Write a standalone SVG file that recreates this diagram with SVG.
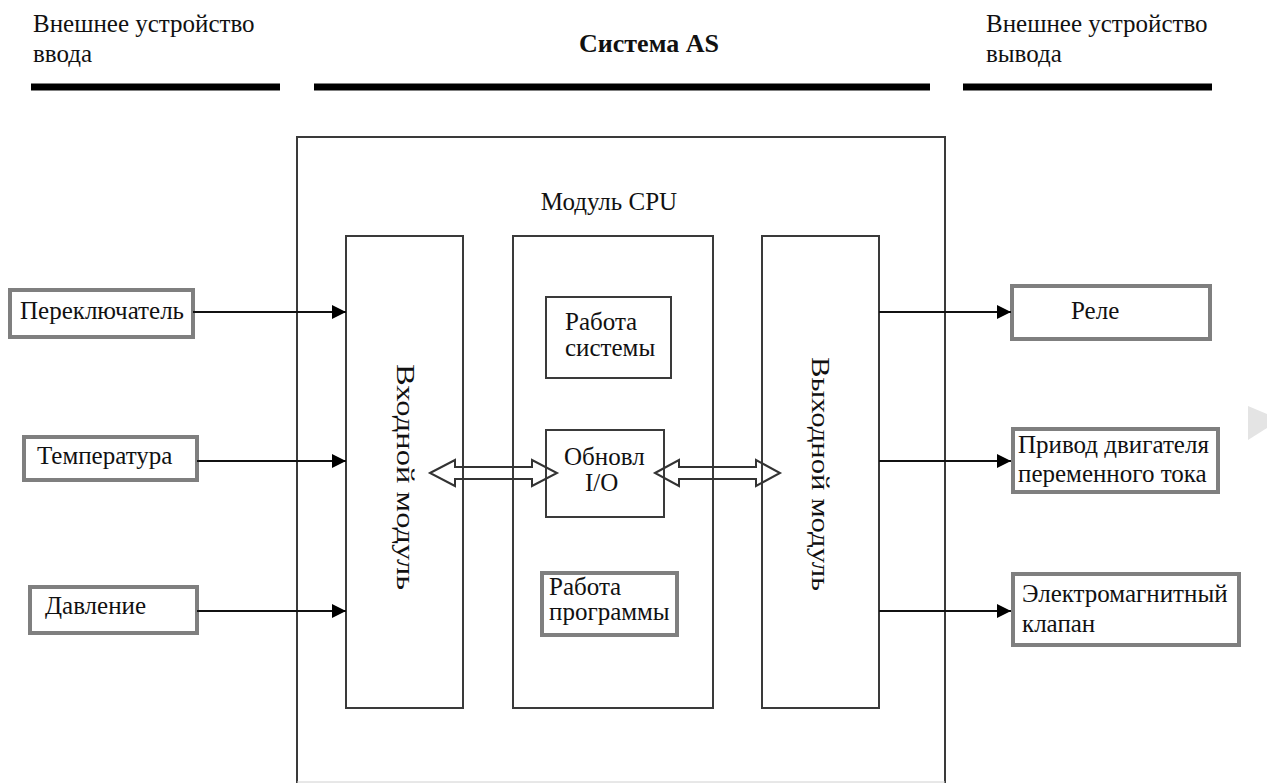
<svg xmlns="http://www.w3.org/2000/svg" width="1267" height="783" viewBox="0 0 1267 783">
<style>
  .t { font-family: 'Liberation Serif', 'Times New Roman', serif; font-size: 25px; fill: #111; }
  .tb { font-family: 'Liberation Serif', 'Times New Roman', serif; font-size: 26px; font-weight: bold; fill: #111; }
  .frame { fill: none; stroke: #3a3a3a; stroke-width: 2; }
  .gbox { fill: #fff; stroke: #7f7f7f; stroke-width: 4; }
  .bar { fill: #000; }
  .conn { stroke: #111; stroke-width: 2; fill: none; }
  .dbl { fill: none; stroke: #333; stroke-width: 2; stroke-linejoin: miter; }
</style>
<defs>
  <marker id="ah" markerUnits="userSpaceOnUse" markerWidth="16" markerHeight="16" viewBox="0 0 16 16" refX="15" refY="8" orient="auto">
    <path d="M1,1 L15,8 L1,15 Z" fill="#000"/>
  </marker>
</defs>
<rect width="1267" height="783" fill="#fff"/>

<g id="header">
  <text class="t" x="33" y="32">Внешнее устройство</text>
  <text class="t" x="33" y="62">ввода</text>
  <text class="tb" x="649" y="52" text-anchor="middle">Система AS</text>
  <text class="t" x="986" y="32">Внешнее устройство</text>
  <text class="t" x="986" y="62">вывода</text>
  <rect class="bar" x="31" y="83.5" width="249" height="7"/>
  <rect class="bar" x="314" y="83.5" width="616" height="7"/>
  <rect class="bar" x="963" y="83.5" width="249" height="7"/>
</g>

<g id="system-as">
  <path class="frame" d="M297,783 L297,137 L945,137 L945,783"/>
  <line x1="297" y1="782" x2="945" y2="782" stroke="#d0d0d0" stroke-width="1"/>
</g>

<g id="cpu-module">
  <text class="t" x="609" y="210" text-anchor="middle">Модуль CPU</text>
  <rect class="frame" x="513" y="236" width="200" height="472"/>
</g>

<g id="input-module">
  <rect class="frame" x="346" y="236" width="117" height="472"/>
  <text class="t" transform="translate(397,477) rotate(90)" text-anchor="middle" textLength="226" lengthAdjust="spacingAndGlyphs">Входной модуль</text>
</g>

<g id="output-module">
  <rect class="frame" x="762" y="236" width="117" height="472"/>
  <text class="t" transform="translate(812,474) rotate(90)" text-anchor="middle" textLength="234" lengthAdjust="spacingAndGlyphs">Выходной модуль</text>
</g>

<g id="system-work">
  <rect class="frame" x="546" y="297" width="125" height="81"/>
  <text class="t" x="565" y="330">Работа</text>
  <text class="t" x="565" y="356">системы</text>
</g>

<g id="io-update">
  <rect class="frame" x="546" y="430" width="118" height="87"/>
  <text class="t" x="564" y="465">Обновл</text>
  <text class="t" x="585" y="491">I/O</text>
</g>

<g id="program-work">
  <rect class="gbox" x="542" y="573" width="135" height="62"/>
  <text class="t" x="549" y="595">Работа</text>
  <text class="t" x="549" y="620">программы</text>
</g>

<g id="switch">
  <rect class="gbox" x="10" y="290" width="183" height="47"/>
  <text class="t" x="20" y="319">Переключатель</text>
</g>
<g id="temperature">
  <rect class="gbox" x="24" y="437" width="173" height="43"/>
  <text class="t" x="37" y="464">Температура</text>
</g>
<g id="pressure">
  <rect class="gbox" x="30" y="587" width="167" height="46"/>
  <text class="t" x="45" y="614">Давление</text>
</g>

<g id="relay">
  <rect class="gbox" x="1012" y="286" width="198" height="53"/>
  <text class="t" x="1071" y="319">Реле</text>
</g>
<g id="ac-drive">
  <rect class="gbox" x="1013" y="429" width="205" height="63"/>
  <text class="t" x="1018" y="453">Привод двигателя</text>
  <text class="t" x="1018" y="482">переменного тока</text>
</g>
<g id="solenoid">
  <rect class="gbox" x="1013" y="574" width="226" height="71"/>
  <text class="t" x="1022" y="602">Электромагнитный</text>
  <text class="t" x="1022" y="632">клапан</text>
</g>

<g id="connectors">
  <line class="conn" x1="193" y1="312" x2="346" y2="312" marker-end="url(#ah)"/>
  <line class="conn" x1="197" y1="461" x2="346" y2="461" marker-end="url(#ah)"/>
  <line class="conn" x1="197" y1="611" x2="346" y2="611" marker-end="url(#ah)"/>
  <line class="conn" x1="879" y1="312" x2="1011" y2="312" marker-end="url(#ah)"/>
  <line class="conn" x1="879" y1="461" x2="1011" y2="461" marker-end="url(#ah)"/>
  <line class="conn" x1="879" y1="611" x2="1011" y2="611" marker-end="url(#ah)"/>
  <polygon class="dbl" points="430,473 455,460 455,467 532,467 532,460 557,473 532,486 532,479 455,479 455,486"/>
  <polygon class="dbl" points="655,473 679,460 679,467 756,467 756,460 780,473 756,486 756,479 679,479 679,486"/>
</g>

<polygon points="1248,406 1267,414 1267,428 1248,440" fill="#e4e4e4"/>
</svg>
